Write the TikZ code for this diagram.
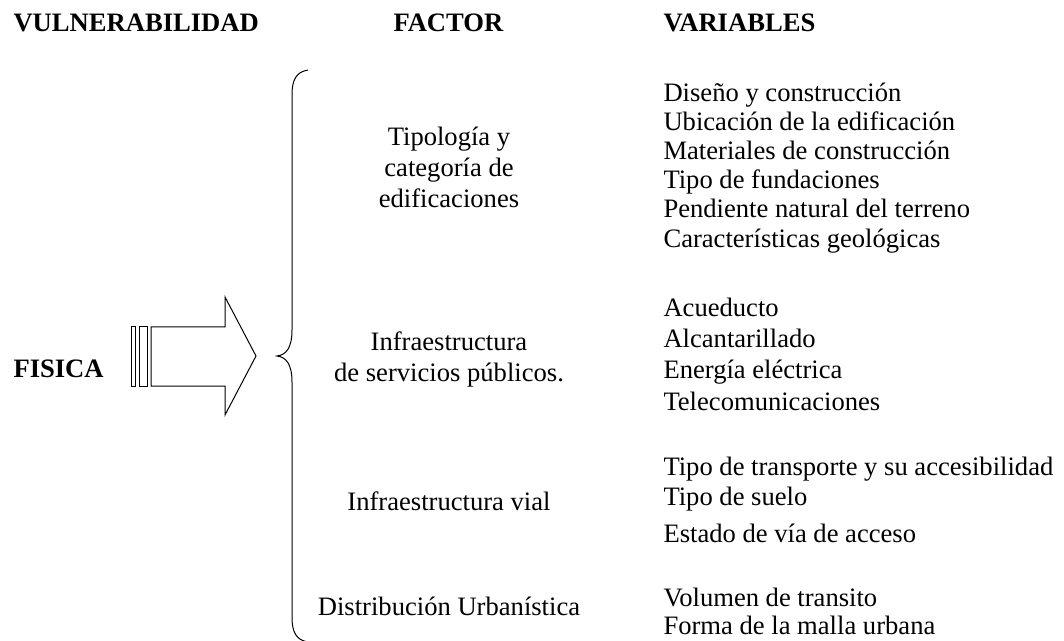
\documentclass[tikz,border=0pt]{standalone}
\usepackage{fontspec}
\setmainfont{Liberation Serif}

\begin{document}
\begin{tikzpicture}[x=0.5pt,y=-0.5pt,line width=0.5pt,
  head/.style={font=\fontsize{13.3}{15}\selectfont\bfseries,anchor=base west,inner sep=0},
  factor/.style={font=\fontsize{13.3}{15.5}\selectfont,align=center,inner sep=0},
  var/.style={font=\fontsize{13.3}{15}\selectfont,anchor=base west,inner sep=0}]
\useasboundingbox (0,0) rectangle (1064,641);
% headings
\node[head] (vuln) at (13,32) {VULNERABILIDAD};
\node[head] (factor) at (393,32) {FACTOR};
\node[head] (variables) at (663,32) {VARIABLES};
\node[head] (fisica) at (13,378) {FISICA};
% arrow
\draw (131,327) rectangle (135,386);
\draw (139,327) rectangle (147,386);
\draw (151,327) -- (225,327) -- (225,297) -- (256,356) -- (225,415) -- (225,386) -- (151,386) -- cycle;
% brace
\coordinate (btop) at (308,70);
\coordinate (btip) at (277,356);
\coordinate (bbot) at (308,642);
\draw (btop) .. controls (296,72) and (292,80) .. (292,95) -- (292,330)
  .. controls (292,348) and (286,355) .. (btip)
  .. controls (286,357) and (292,364) .. (292,382) -- (292,617)
  .. controls (292,632) and (296,640) .. (bbot);
% factores
\node[factor] (tipologia) at (449,167) {Tipología y\\categoría de\\edificaciones};
\node[factor] (servicios) at (449,359) {Infraestructura\\de servicios públicos.};
\node[factor,anchor=base] (vial) at (449,510) {Infraestructura vial};
\node[factor,anchor=base] (urbana) at (449,615) {Distribución Urbanística};
% variables
\foreach \y/\txt [count=\i] in {102/Diseño y construcción,131/Ubicación de la edificación,
  160/Materiales de construcción,189/Tipo de fundaciones,218/Pendiente natural del terreno,
  248/Características geológicas}
  \node[var] (edif-\i) at (663,\y) {\txt};
\foreach \y/\txt [count=\i] in {317/Acueducto,348/Alcantarillado,379/Energía eléctrica,410/Telecomunicaciones}
  \node[var] (serv-\i) at (663,\y) {\txt};
\foreach \y/\txt [count=\i] in {475/Tipo de transporte y su accesibilidad,505/Tipo de suelo,542/Estado de vía de acceso}
  \node[var] (vial-\i) at (663,\y) {\txt};
\foreach \y/\txt [count=\i] in {606/Volumen de transito,634/Forma de la malla urbana}
  \node[var] (urb-\i) at (663,\y) {\txt};
\end{tikzpicture}
\end{document}
